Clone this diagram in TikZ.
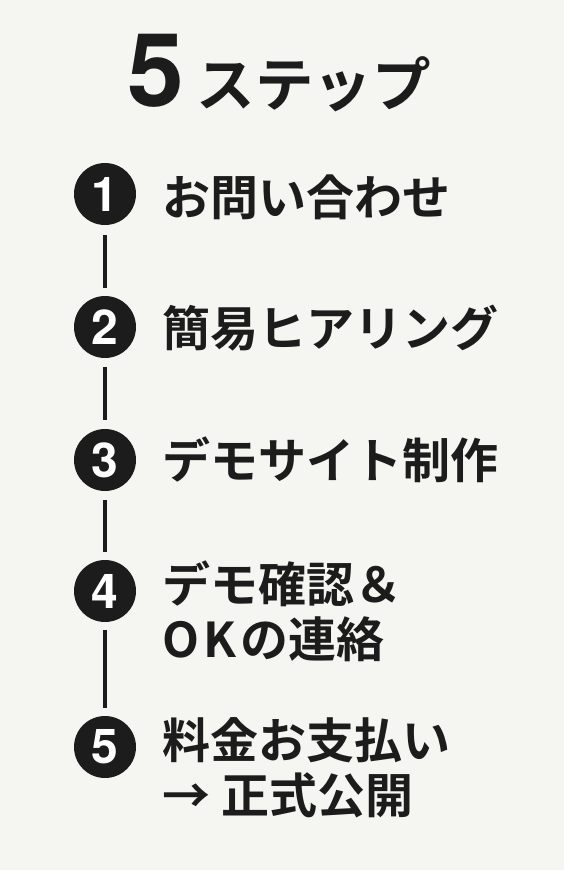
\documentclass[tikz,border=0pt]{standalone}
\usepackage{fontspec}
\setmainfont{Noto Sans CJK JP}[BoldFont={* Bold}]
\newfontfamily\jpb{Noto Sans CJK JP Bold}
\newfontfamily\numf{TeX Gyre Heros}
\definecolor{bg}{HTML}{F5F5F1}
\definecolor{ink}{HTML}{1C1C1C}
\begin{document}
\begin{tikzpicture}[x=1pt,y=-1pt,
  stepnum/.style={circle,fill=ink,minimum size=62pt,inner sep=0pt,text=white,font=\numf\bfseries\fontsize{48}{48}\selectfont},
  steptext/.style={anchor=west,inner sep=0pt,text=ink,align=left,font=\jpb\fontsize{48}{55}\selectfont},
  link/.style={draw=ink,line width=3.5pt}]
\fill[bg] (0,0) rectangle (564,870);
\useasboundingbox (0,0) rectangle (564,870);
\node[inner sep=0pt,text=ink] (title) at (279,73) {{\numf\bfseries\fontsize{102}{102}\selectfont 5}\hspace{13pt}{\jpb\fontsize{58.5}{58.5}\selectfont ステップ}};
\node[stepnum] (n1) at (105,194) {1};
\node[stepnum] (n2) at (105,327) {2};
\node[stepnum] (n3) at (105,460) {3};
\node[stepnum] (n4) at (105,591) {4};
\node[stepnum] (n5) at (105,747) {5};
\draw[link] (105,235) -- (105,288);
\draw[link] (105,367) -- (105,420);
\draw[link] (105,500) -- (105,552);
\draw[link] (105,630) -- (105,708);
\node[steptext] (t1) at (162,197) {お問い合わせ};
\node[steptext] (t2) at (162,328) {簡易ヒアリング};
\node[steptext] (t3) at (162,460) {デモサイト制作};
\node[steptext] (t4) at (162,611) {デモ確認＆\\O\hspace{4pt}K\hspace{4pt}の連絡};
\node[steptext] (t5) at (162,768) {料金お支払い\\→ 正式公開};
\end{tikzpicture}
\end{document}
